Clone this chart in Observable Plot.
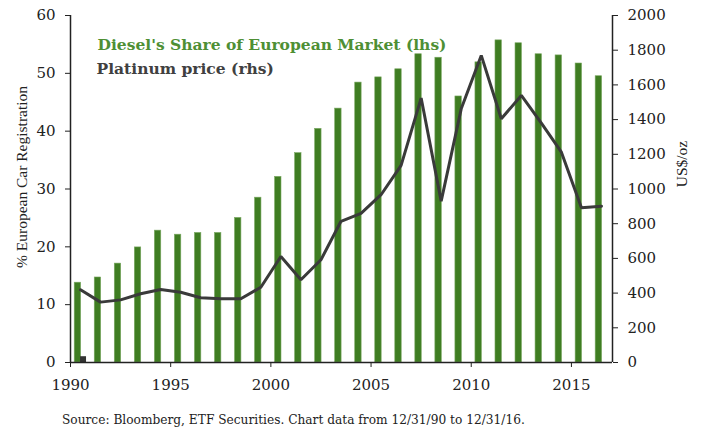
<!DOCTYPE html>
<html><head><meta charset="utf-8">
<script src="https://cdn.jsdelivr.net/npm/d3@7"></script>
<script src="https://cdn.jsdelivr.net/npm/@observablehq/plot@0.6"></script>
<style>
body{margin:0;background:#fff;}
#chart svg{display:block;}
#caption{font-family:"DejaVu Serif",serif;font-size:12.2px;color:#222;margin:12px 0 0 62px;line-height:16px;white-space:nowrap;}
</style></head><body><div id="chart"></div><div id="caption">Source: Bloomberg, ETF Securities. Chart data from 12/31/90 to 12/31/16.</div>
<script>
const years = [1990,1991,1992,1993,1994,1995,1996,1997,1998,1999,2000,2001,2002,2003,2004,2005,2006,2007,2008,2009,2010,2011,2012,2013,2014,2015,2016];
const dieselShare = [13.8,14.7,17.1,19.9,22.8,22.1,22.4,22.4,25.0,28.5,32.1,36.2,40.4,43.9,48.4,49.3,50.7,53.3,52.7,46.0,51.9,55.7,55.2,53.3,53.1,51.7,49.5];
const platinumPrice = [419,348,361,396,421,405,373,367,367,434,611,477,592,814,860,967,1136,1524,930,1462,1770,1405,1539,1380,1212,892,901];
const xTicks = [1990,1995,2000,2005,2010,2015];
const leftTicks = [0,10,20,30,40,50,60];
const rightTicks = [0,200,400,600,800,1000,1200,1400,1600,1800,2000];
const markerYear = [1990];
const markerValue = [1];

const ratio = 60/2000;
const data = years.map((y,i)=>({year:y, diesel:dieselShare[i], price:platinumPrice[i]*ratio}));
const marker = markerYear.map((y,i)=>({year:y, v:markerValue[i]}));

const green = "#3f7d22";
const chart = Plot.plot({
  width: 702, height: 400,
  marginLeft: 70, marginRight: 90, marginTop: 15, marginBottom: 38,
  x: {domain: [1990, 2017.05]},
  y: {domain: [0, 60]},
  style: {fontFamily: "DejaVu Serif, serif", fontSize: "15px", color: "#222", background: "#fff"},
  marks: [
    Plot.rectY(data, {x1: d=>d.year+0.21, x2: d=>d.year+0.53, y: "diesel", fill: green, stroke:"#7aa862", strokeWidth:0.6}),
    Plot.rect(marker, {x1: d=>d.year+0.5, x2: d=>d.year+0.8, y1: 0, y2: "v", fill: "#333"}),
    Plot.line(data, {x: d=>d.year+0.5, y: "price", stroke: "#3a3a3a", strokeWidth: 3, strokeLinejoin:"miter"}),
    Plot.ruleY([0], {stroke:"#222", strokeWidth:1.5}),
    Plot.ruleX([1990, 2017.05], {stroke:"#222", strokeWidth:1.5}),
    Plot.axisX({ticks: xTicks, tickFormat: d=>String(d), tickSize: 5, tickPadding: 12, label: null, fontSize: 15}),
    Plot.axisY({anchor: "left", ticks: leftTicks, tickSize: 5, tickPadding: 10, label: null, fontSize: 15}),
    Plot.axisY(rightTicks.map(v=>v*ratio), {anchor: "right", tickFormat: d=>String(Math.round(d/ratio)), tickSize: 5, tickPadding: 10, label: null, fontSize: 15}),
    Plot.text(["% European Car Registration"], {frameAnchor: "left", textAnchor: "middle", dx: -48, dy: -12, rotate: -90, fontFamily: "Liberation Serif, serif", fontSize: 15.5, fill: "#222"}),
    Plot.text(["US$/oz"], {frameAnchor: "right", textAnchor: "middle", dx: 70, dy: -25, rotate: -90, fontFamily: "Liberation Serif, serif", fontSize: 15.5, fill: "#222"}),
    Plot.text(["Diesel's Share of European Market (lhs)"], {frameAnchor: "top-left", dx: 27, dy: 34, textAnchor: "start", lineAnchor: "bottom", fontWeight: "bold", fontSize: 15.5, fill: "#4e8f34"}),
    Plot.text(["Platinum price (rhs)"], {frameAnchor: "top-left", dx: 26, dy: 58, textAnchor: "start", lineAnchor: "bottom", fontWeight: "bold", fontSize: 15.5, fill: "#404040"})
  ]
});
document.getElementById("chart").appendChild(chart);
</script></body></html>
